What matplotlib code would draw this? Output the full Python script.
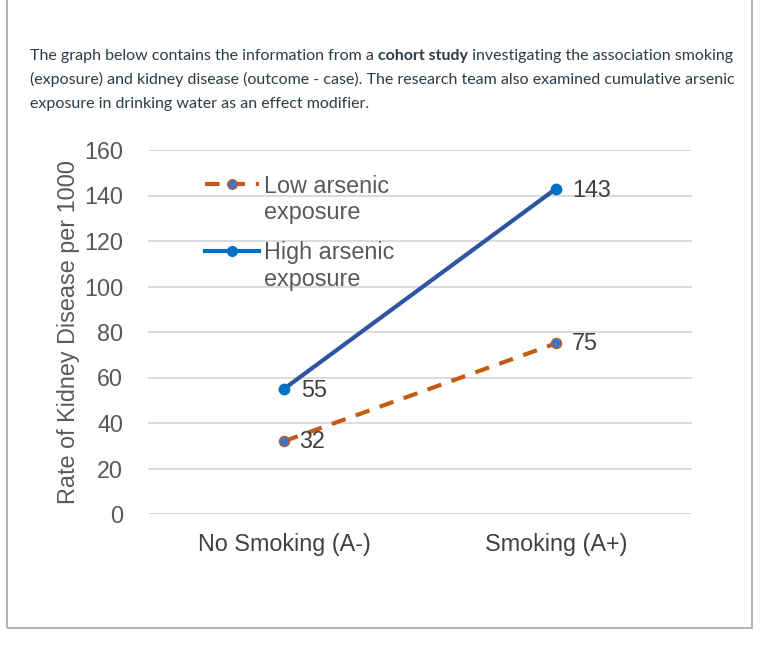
#import libraries
import numpy as np
import matplotlib.pyplot as plt
from matplotlib.patches import Rectangle
from matplotlib.lines import Line2D
from matplotlib.legend_handler import HandlerLine2D

#chart data
categories = ['No Smoking (A-)', 'Smoking (A+)']
low_arsenic = [32, 75]
high_arsenic = [55, 143]
y_ticks = [0, 20, 40, 60, 80, 100, 120, 140, 160]

#colors
txt_gray = '#595959'
high_line = '#2F55A0'
high_mark = '#0070C0'
low_line = '#C55A11'
low_mark = '#4472C4'
FS = 16.8

W, H = 765, 646
fig = plt.figure(figsize=(W / 100, H / 100), dpi=100)

#outer frame of the question box
fig.add_artist(Rectangle((7 / W, 1 - 628 / H), 745 / W, 640 / H, transform=fig.transFigure,
                         fill=False, edgecolor='#A6A6A6', linewidth=1.2))

#question text (Lato, with a bold phrase)
renderer = fig.canvas.get_renderer()
lines = [
    [("The graph below contains the information from a ", 'normal'), ("cohort study", 'bold'),
     (" investigating the association smoking", 'normal')],
    [("(exposure) and kidney disease (outcome - case). The research team also examined cumulative arsenic", 'normal')],
    [("exposure in drinking water as an effect modifier.", 'normal')],
]
baselines = [60, 84, 108]
for parts, yb in zip(lines, baselines):
    x = 30
    for s, w in parts:
        t = fig.text(x / W, 1 - yb / H, s, family='Lato', weight=w, fontsize=11.5,
                     color='#2D3B45', va='baseline', ha='left')
        bb = t.get_window_extent(renderer=renderer)
        x += bb.width

#chart axes
ax = fig.add_axes([148 / W, 1 - 514 / H, 544 / W, 364 / H])
x = [0, 1]
ax.plot(x, low_arsenic, color=low_line, linewidth=3, dashes=(3.5, 2.6),
        marker='o', markersize=7.5, markerfacecolor=low_mark, markeredgecolor=low_line,
        markeredgewidth=0.8, zorder=3)
ax.plot(x, high_arsenic, color=high_line, linewidth=3,
        marker='o', markersize=7.5, markerfacecolor=high_mark, markeredgecolor=high_mark, zorder=3)

#data labels
for xi, v in zip(x, low_arsenic):
    ax.annotate(str(v), (xi, v), xytext=(11, 0), textcoords='offset points',
                fontsize=FS, color='#404040', family='Liberation Sans', va='center', ha='left')
for xi, v in zip(x, high_arsenic):
    ax.annotate(str(v), (xi, v), xytext=(12, -1), textcoords='offset points',
                fontsize=FS, color='#404040', family='Liberation Sans', va='center', ha='left')

ax.set_xlim(-0.5, 1.5)
ax.set_ylim(0, 160)
ax.set_yticks(y_ticks)
ax.set_xticks(x)
ax.set_xticklabels(categories)
ax.grid(axis='y', color='#D9D9D9', linewidth=1.3)
ax.set_axisbelow(True)
for sp in ax.spines.values():
    sp.set_visible(False)
ax.tick_params(length=0, labelsize=FS, labelcolor=txt_gray, pad=18)
ax.tick_params(axis='x', labelcolor='#404040', pad=14)
for lab in ax.get_xticklabels() + ax.get_yticklabels():
    lab.set_family('Liberation Sans')
ax.set_ylabel('Rate of Kidney Disease per 1000', fontsize=FS, color=txt_gray,
              family='Liberation Sans', labelpad=2.5)


#legend handles sit level with the first line of each label
class UpHandler(HandlerLine2D):
    def create_artists(self, legend, orig_handle, xdescent, ydescent, width, height, fontsize, trans):
        arts = super().create_artists(legend, orig_handle, xdescent, ydescent, width, height,
                                      fontsize, trans)
        for a in arts:
            a.set_ydata(np.asarray(a.get_ydata()) + 0.68 * fontsize)
        return arts


h_low = Line2D([], [], color=low_line, linewidth=3, dashes=(3.5, 2.6), marker='o', markersize=7,
               markerfacecolor=low_mark, markeredgecolor=low_line, markeredgewidth=0.8)
h_high = Line2D([], [], color=high_mark, linewidth=3, marker='o', markersize=7,
                markerfacecolor=high_mark, markeredgecolor=high_mark)
leg = ax.legend([h_low, h_high], ['Low arsenic\nexposure', 'High arsenic\nexposure'],
                loc='upper left', bbox_to_anchor=(0.067, 0.99), frameon=False,
                prop={'family': 'Liberation Sans', 'size': FS}, labelcolor=txt_gray,
                handlelength=2.3, handletextpad=0.2, labelspacing=0.72,
                handler_map={Line2D: UpHandler()})
for t in leg.get_texts():
    t.set_linespacing(1.21)

fig.savefig('out.png', dpi=100)
